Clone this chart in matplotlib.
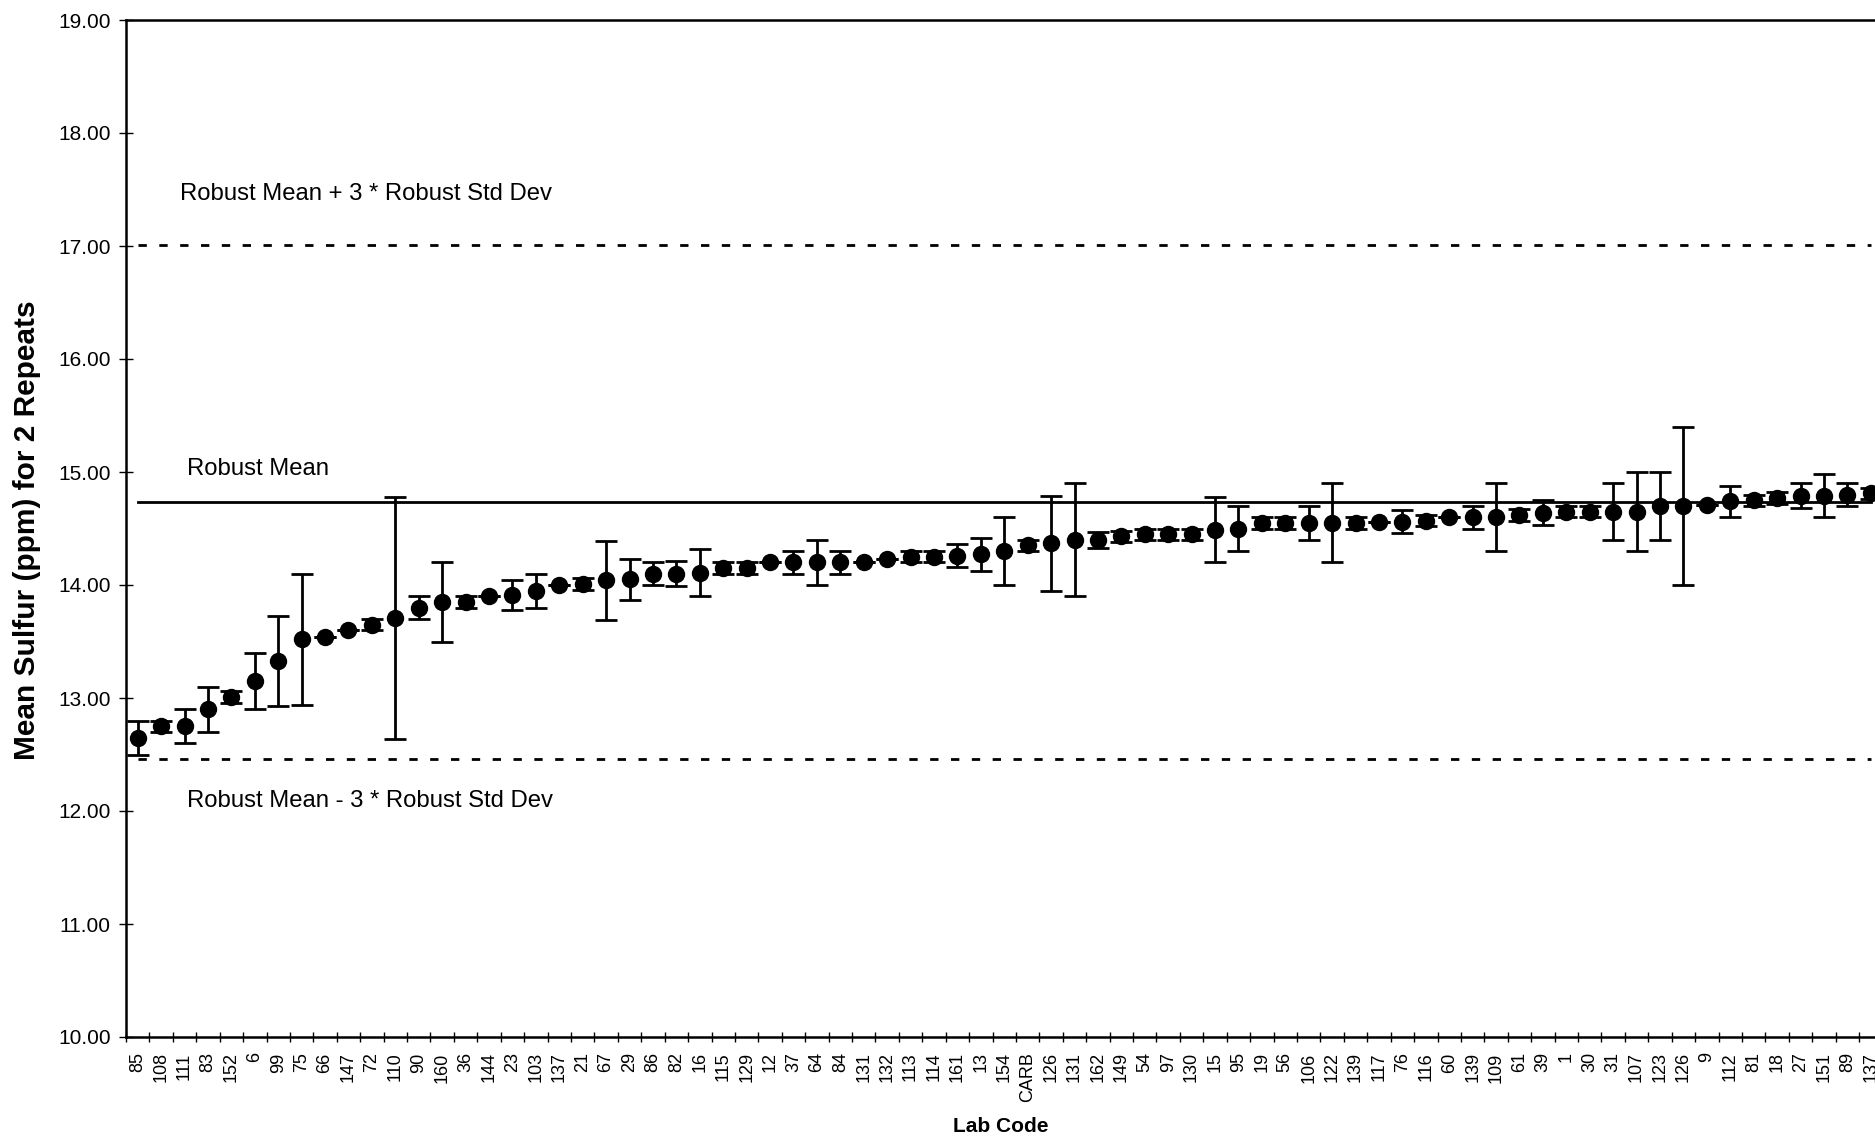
import matplotlib
matplotlib.use("Agg")
import matplotlib.pyplot as plt
from matplotlib.ticker import FixedLocator, NullFormatter, FixedFormatter
import numpy as np

plt.rcParams["font.family"] = ["Liberation Sans", "DejaVu Sans"]

# Lab codes, sorted by mean result
labs = ["85", "108", "111", "83", "152", "6", "99", "75", "66", "147", "72", "110",
        "90", "160", "36", "144", "23", "103", "137", "21", "67", "29", "86", "82",
        "16", "115", "129", "12", "37", "64", "84", "131", "132", "113", "114", "161",
        "13", "154", "CARB", "126", "131", "162", "149", "54", "97", "130", "15", "95",
        "19", "56", "106", "122", "139", "117", "76", "116", "60", "139", "109", "61",
        "39", "1", "30", "31", "107", "123", "126", "9", "112", "81", "18", "27",
        "151", "89", "137"]

# Mean sulfur (ppm) of the two repeats for each lab
means = [12.65, 12.75, 12.75, 12.90, 13.01, 13.15, 13.33, 13.52, 13.54, 13.60, 13.65, 13.71,
         13.80, 13.85, 13.85, 13.90, 13.91, 13.95, 14.00, 14.01, 14.04, 14.05, 14.10, 14.10,
         14.11, 14.15, 14.15, 14.20, 14.20, 14.20, 14.20, 14.20, 14.23, 14.25, 14.25, 14.26,
         14.27, 14.30, 14.35, 14.37, 14.40, 14.40, 14.43, 14.45, 14.45, 14.45, 14.49, 14.50,
         14.55, 14.55, 14.55, 14.55, 14.55, 14.56, 14.56, 14.57, 14.60, 14.60, 14.60, 14.62,
         14.64, 14.65, 14.65, 14.65, 14.65, 14.70, 14.70, 14.71, 14.74, 14.75, 14.77, 14.79,
         14.79, 14.80, 14.81]

# Half-range between the two repeats
errs = [0.15, 0.05, 0.15, 0.20, 0.05, 0.25, 0.40, 0.58, 0.00, 0.00, 0.05, 1.07,
        0.10, 0.35, 0.05, 0.00, 0.13, 0.15, 0.00, 0.05, 0.35, 0.18, 0.10, 0.11,
        0.21, 0.05, 0.05, 0.00, 0.10, 0.20, 0.10, 0.00, 0.00, 0.05, 0.05, 0.10,
        0.15, 0.30, 0.05, 0.42, 0.50, 0.07, 0.05, 0.05, 0.05, 0.05, 0.29, 0.20,
        0.05, 0.05, 0.15, 0.35, 0.05, 0.00, 0.10, 0.05, 0.00, 0.10, 0.30, 0.05,
        0.11, 0.05, 0.05, 0.25, 0.35, 0.30, 0.70, 0.00, 0.14, 0.05, 0.05, 0.11,
        0.19, 0.10, 0.05]

robust_mean = 14.735
robust_sd = 0.758
y_ticks = [10.0, 11.0, 12.0, 13.0, 14.0, 15.0, 16.0, 17.0, 18.0, 19.0]

W, H = 1875, 1139
fig = plt.figure(figsize=(W / 100, H / 100), dpi=100)
ax = fig.add_axes([126 / W, 1 - 1037 / H, 1 - 126 / W + 0.004, (1037 - 20) / H])

x = np.arange(len(labs))
ax.errorbar(x, means, yerr=errs, fmt="o", color="black", markersize=11.5,
            elinewidth=2.0, capsize=8, capthick=2.0, zorder=3)

# Reference lines: robust mean and +/- 3 robust standard deviations
ax.plot([x[0], x[-1]], [robust_mean] * 2, color="black", lw=2.0, zorder=2)
upper = robust_mean + 3 * robust_sd
lower = robust_mean - 3 * robust_sd
for yv in (upper, lower):
    ax.plot([x[0], x[-1]], [yv] * 2, color="black", lw=2.0,
            linestyle=(0, (3.0, 4.5)), zorder=2)

ax.text(1.82, 17.46, "Robust Mean + 3 * Robust Std Dev", fontsize=17.2, va="center", ha="left")
ax.text(2.09, 15.03, "Robust Mean", fontsize=17.2, va="center", ha="left")
ax.text(2.09, 12.09, "Robust Mean - 3 * Robust Std Dev", fontsize=17.2, va="center", ha="left")

ax.set_xlim(-0.5, len(labs) - 0.5)
ax.set_ylim(10, 19)
ax.set_yticks(y_ticks)
ax.set_yticklabels([f"{v:.2f}" for v in y_ticks])
ax.tick_params(axis="y", direction="inout", length=10, width=1.0, labelsize=15, pad=6)

# Lab codes centred in each slot, tick marks on slot boundaries
ax.xaxis.set_major_locator(FixedLocator(x))
ax.xaxis.set_major_formatter(FixedFormatter(labs))
ax.xaxis.set_minor_locator(FixedLocator(np.arange(len(labs) + 1) - 0.5))
ax.xaxis.set_minor_formatter(NullFormatter())
ax.tick_params(axis="x", which="major", length=0, labelsize=13, pad=11, labelrotation=90)
ax.tick_params(axis="x", which="minor", direction="inout", length=7.5, width=1.0)

for side in ("left", "bottom", "top"):
    ax.spines[side].set_linewidth(1.8)
ax.spines["right"].set_visible(False)

fig.text(27 / W, 1 - 530 / H, "Mean Sulfur (ppm) for 2 Repeats", rotation=90,
         fontsize=21.5, fontweight="bold", ha="center", va="center")
fig.text(1001 / W, 1 - 1126 / H, "Lab Code", fontsize=15, fontweight="bold",
         ha="center", va="center")

fig.savefig("out.png", dpi=100)
